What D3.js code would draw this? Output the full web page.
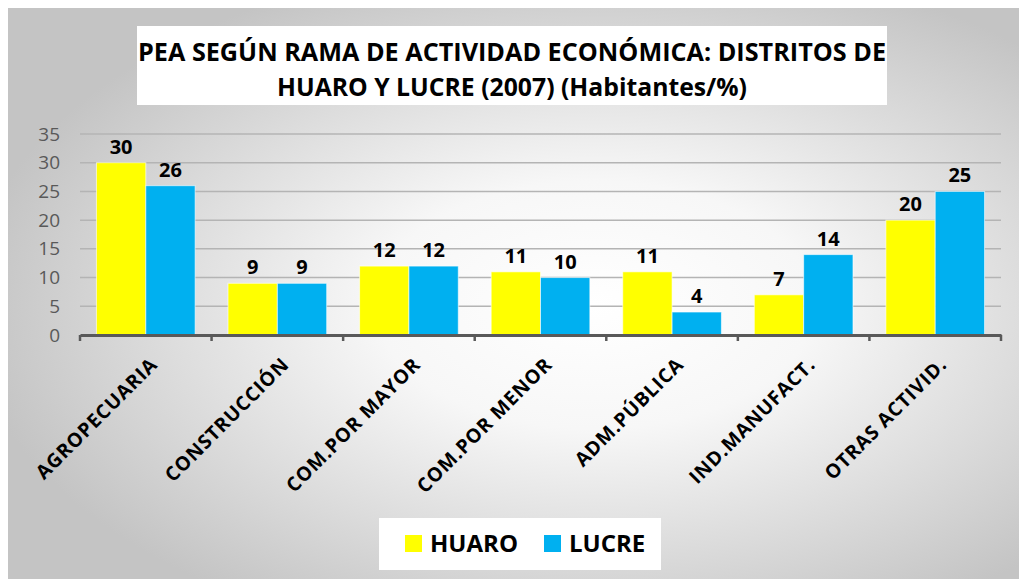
<!DOCTYPE html>
<html>
<head>
<meta charset="utf-8">
<script src="https://cdn.jsdelivr.net/npm/d3@7"></script>
<style>
  body { margin: 0; background: #fff; }
  svg { display: block; font-family: "Open Sans", sans-serif; }
</style>
</head>
<body>
<div id="chart"></div>
<script>
// Chart data
const categories = ["AGROPECUARIA", "CONSTRUCCIÓN", "COM.POR MAYOR", "COM.POR MENOR", "ADM.PÚBLICA", "IND.MANUFACT.", "OTRAS ACTIVID."];
const seriesNames = ["HUARO", "LUCRE"];
const huaro = [30, 9, 12, 11, 11, 7, 20];
const lucre = [26, 9, 12, 10, 4, 14, 25];
const yTicks = [0, 5, 10, 15, 20, 25, 30, 35];
const titleLines = ["PEA SEGÚN RAMA DE ACTIVIDAD ECONÓMICA: DISTRITOS DE", "HUARO Y LUCRE (2007) (Habitantes/%)"];

const colors = ["#FFFF00", "#00B0F0"];

const W = 1019, H = 579;
const margin = { top: 134, right: 18, bottom: 244, left: 80 };
const width = W - margin.left - margin.right;
const height = H - margin.top - margin.bottom;

const svg = d3.select("#chart").append("svg")
  .attr("width", W)
  .attr("height", H);

// Background gradient
const defs = svg.append("defs");
const grad = defs.append("radialGradient")
  .attr("id", "bg")
  .attr("cx", "58%").attr("cy", "52%")
  .attr("r", "62%");
grad.append("stop").attr("offset", "0%").attr("stop-color", "#ffffff");
grad.append("stop").attr("offset", "35%").attr("stop-color", "#f7f7f7");
grad.append("stop").attr("offset", "100%").attr("stop-color", "#c4c4c4");

svg.append("rect")
  .attr("x", 8).attr("y", 8)
  .attr("width", W - 8).attr("height", H - 8)
  .attr("fill", "url(#bg)");

// Title box
svg.append("rect")
  .attr("x", 137).attr("y", 26)
  .attr("width", 750).attr("height", 79)
  .attr("fill", "#ffffff");

svg.selectAll(".title")
  .data(titleLines)
  .enter()
  .append("text")
  .attr("class", "title")
  .attr("x", 512)
  .attr("y", (d, i) => 61 + i * 35)
  .attr("text-anchor", "middle")
  .attr("textLength", (d, i) => i === 0 ? 748 : 470)
  .attr("lengthAdjust", "spacingAndGlyphs")
  .style("font-size", "25px")
  .style("font-weight", "bold")
  .attr("fill", "#000")
  .text(d => d);

const g = svg.append("g")
  .attr("transform", `translate(${margin.left},${margin.top})`);

// Scales
const x0 = d3.scaleBand().domain(categories).range([0, width]).paddingInner(0.25).paddingOuter(0.125);
const x1 = d3.scaleBand().domain(seriesNames).range([0, x0.bandwidth()]);
const y = d3.scaleLinear().domain([0, 35]).range([height, 0]);

// Gridlines
g.append("g")
  .selectAll("line")
  .data(yTicks.filter(d => d > 0))
  .enter()
  .append("line")
  .attr("x1", 0).attr("x2", width)
  .attr("y1", d => y(d)).attr("y2", d => y(d))
  .attr("stroke", "#b4b4b4")
  .attr("stroke-width", 1.5);

// Y axis labels
const yAxis = g.append("g")
  .call(d3.axisLeft(y).tickValues(yTicks).tickSize(0).tickPadding(20));
yAxis.select(".domain").remove();
yAxis.selectAll("text")
  .style("font-size", "19px")
  .style("font-family", "Open Sans, sans-serif")
  .attr("fill", "#595959");

// Bars
const rows = categories.map((c, i) => ({ cat: c, values: [huaro[i], lucre[i]] }));

const groups = g.selectAll(".grp")
  .data(rows)
  .enter()
  .append("g")
  .attr("transform", d => `translate(${x0(d.cat)},0)`);

groups.selectAll("rect")
  .data(d => d.values.map((v, j) => ({ key: seriesNames[j], value: v, j })))
  .enter()
  .append("rect")
  .attr("x", d => x1(d.key))
  .attr("y", d => y(d.value))
  .attr("width", x1.bandwidth())
  .attr("height", d => height - y(d.value))
  .attr("fill", d => colors[d.j])
  .attr("stroke", "#ffffff")
  .attr("stroke-opacity", 0.6)
  .attr("stroke-width", 1);

groups.selectAll(".lbl")
  .data(d => d.values.map((v, j) => ({ key: seriesNames[j], value: v })))
  .enter()
  .append("text")
  .attr("class", "lbl")
  .attr("x", d => x1(d.key) + x1.bandwidth() / 2)
  .attr("y", d => y(d.value) - 9)
  .attr("text-anchor", "middle")
  .style("font-size", "20px")
  .style("font-weight", "bold")
  .attr("fill", "#000")
  .text(d => d.value);

// X axis
const xAxis = g.append("g")
  .attr("transform", `translate(0,${height})`)
  .call(d3.axisBottom(x0).tickSize(0).tickPadding(0));
xAxis.select(".domain")
  .attr("stroke", "#595959")
  .attr("stroke-width", 3);

// tick marks at band boundaries
const boundaries = d3.range(categories.length + 1).map(i => i * x0.step());
xAxis.selectAll(".bnd")
  .data(boundaries)
  .enter()
  .append("line")
  .attr("class", "bnd")
  .attr("x1", d => d).attr("x2", d => d)
  .attr("y1", 0).attr("y2", 6)
  .attr("stroke", "#595959")
  .attr("stroke-width", 2.5);

xAxis.selectAll(".tick text")
  .attr("transform", "translate(8,26) rotate(-45)")
  .attr("dy", "0.35em")
  .style("text-anchor", "end")
  .style("font-size", "19.5px")
  .style("letter-spacing", "0.8px")
  .style("font-weight", "bold")
  .style("font-family", "Open Sans, sans-serif")
  .attr("fill", "#000");

// Legend
const legend = svg.append("g");
legend.append("rect")
  .attr("x", 379).attr("y", 518)
  .attr("width", 282).attr("height", 52)
  .attr("fill", "#ffffff");

const legendX = [405, 544];
const items = legend.selectAll(".item")
  .data(seriesNames)
  .enter()
  .append("g")
  .attr("transform", (d, i) => `translate(${legendX[i]},535)`);

items.append("rect")
  .attr("width", 17).attr("height", 17)
  .attr("fill", (d, i) => colors[i]);

items.append("text")
  .attr("x", 25)
  .attr("y", 17)
  .style("font-size", "24px")
  .style("font-weight", "bold")
  .attr("fill", "#000")
  .text(d => d);
</script>
</body>
</html>
